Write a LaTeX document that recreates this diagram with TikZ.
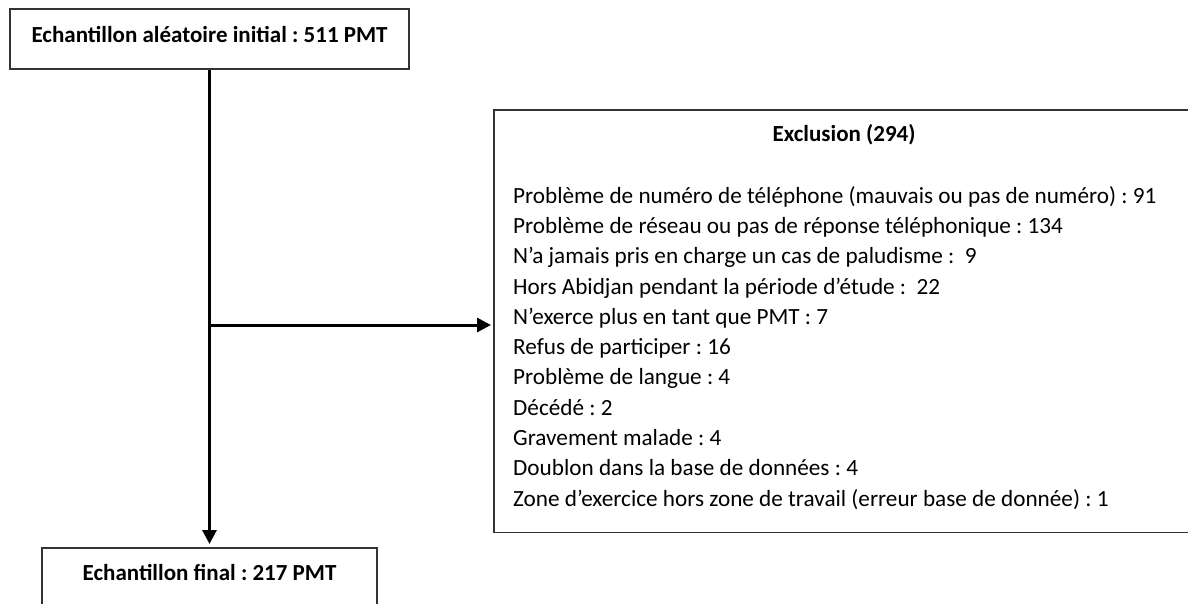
\documentclass[tikz,border=0pt]{standalone}
\usepackage{fontspec}
\setmainfont{Carlito}
\frenchspacing
\usetikzlibrary{positioning,arrows.meta}

\tikzset{
  box/.style={draw=black!80, line width=1.5pt, inner sep=0pt},
  head/.style={font=\fontsize{23}{27}\selectfont\bfseries},
  flow/.style={line width=3pt, -{Triangle[length=14pt,width=14pt]}, shorten >=3pt},
}

\begin{document}
\begin{tikzpicture}[x=1pt,y=-1pt]
  \useasboundingbox (0,0) rectangle (1188,603);
  \clip (0,0) rectangle (1188,603);
  % boxes
  \node[box, head, minimum width=399pt, minimum height=60pt, text height=16pt, text depth=9pt] (init) at (209.5,39) {Echantillon al\'eatoire initial : 511 PMT};
  \node[box, head, anchor=north, minimum width=335pt, minimum height=70pt, text height=16pt, text depth=21pt] (final) at (209.5,547) {Echantillon final : 217 PMT};
  \node[box, draw=none, anchor=north west, minimum width=704pt, minimum height=421pt] (excl) at (494,110) {};
  \draw[box] ([xshift=40pt]excl.north east) -- (excl.north west) -- (excl.south west) -- ([xshift=40pt]excl.south east);
  \node[head] (exclhead) at (844,135) {Exclusion (294)};
  \node[anchor=north west, align=left, inner sep=0pt, font=\fontsize{23.2}{30.3}\selectfont] (excllist) at (513,186) {%
    Problème de numéro de téléphone (mauvais ou pas de numéro) : 91\\
    Problème de réseau ou pas de réponse téléphonique : 134\\
    N’a jamais pris en charge un cas de paludisme :~ 9\\
    Hors Abidjan pendant la période d’étude :~ 22\\
    N’exerce plus en tant que PMT : 7\\
    Refus de participer : 16\\
    Problème de langue : 4\\
    Décédé : 2\\
    Gravement malade : 4\\
    Doublon dans la base de données : 4\\
    Zone d’exercice hors zone de travail (erreur base de donnée) : 1};
  % connectors
  \coordinate (split) at (init.south |- 0,325);
  \draw[flow] (init.south) -- (final.north);
  \draw[flow] (split) -- (split -| excl.west);
\end{tikzpicture}
\end{document}
